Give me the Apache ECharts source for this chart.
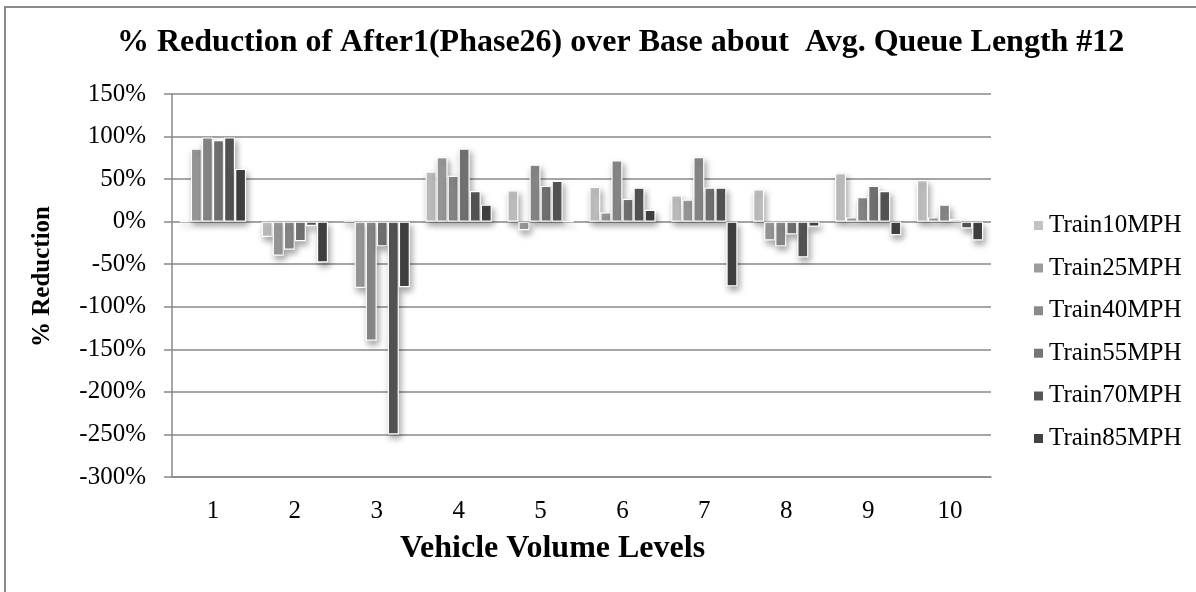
<!DOCTYPE html>
<html>
<head>
<meta charset="utf-8">
<script src="https://cdn.jsdelivr.net/npm/echarts@6/dist/echarts.min.js"></script>
<style>
  html, body { margin: 0; padding: 0; background: #fff; }
  #chart { width: 1196px; height: 592px; }
</style>
</head>
<body>
<div id="chart"></div>
<script>
// Vehicle volume levels on the category axis
const levels = ['1', '2', '3', '4', '5', '6', '7', '8', '9', '10'];

// Percentage reduction per train speed
const train10 = [0, -18, 3, 59, 37, 41, 31, 38, 57, 49];
const train25 = [86, -40, -78, 76, -10, 11, 26, -22, 5, 5];
const train40 = [99, -33, -140, 54, 67, 72, 76, -29, 29, 20];
const train55 = [96, -23, -29, 86, 42, 27, 40, -15, 42, 3];
const train70 = [99, -5, -250, 36, 48, 40, 40, -42, 36, -8];
const train85 = [62, -48, -77, 20, 0, 14, -76, -6, -16, -22];

const seriesNames = ['Train10MPH', 'Train25MPH', 'Train40MPH', 'Train55MPH', 'Train70MPH', 'Train85MPH'];
const seriesValues = [train10, train25, train40, train55, train70, train85];
const seriesColors = ['#c3c3c3', '#9c9c9c', '#8a8a8a', '#757575', '#565656', '#424242'];

const serif = 'Liberation Serif, Times New Roman, serif';

const chart = echarts.init(document.getElementById('chart'), null, { renderer: 'canvas' });

chart.setOption({
  backgroundColor: '#ffffff',
  animation: false,
  color: seriesColors,
  title: {
    text: '% Reduction of After1(Phase26) over Base about  Avg. Queue Length #12',
    left: 117,
    top: 27,
    padding: 0,
    textStyle: { fontFamily: serif, fontWeight: 'bold', fontSize: 32, color: '#000' }
  },
  graphic: [{
    type: 'rect',
    shape: { x: 5, y: 7, width: 1300, height: 700 },
    style: { fill: 'none', stroke: '#8a8a8a', lineWidth: 2 },
    silent: true,
    z: -1
  }],
  legend: {
    orient: 'vertical',
    left: 1032,
    top: 213,
    padding: 0,
    itemWidth: 11,
    itemHeight: 11,
    itemGap: 17.6,
    icon: 'rect',
    textStyle: { fontFamily: serif, fontSize: 25, color: '#000', lineHeight: 25 },
    data: seriesNames
  },
  grid: { left: 172, right: 205, top: 94, bottom: 115 },
  xAxis: {
    type: 'category',
    data: levels,
    name: 'Vehicle Volume Levels',
    nameLocation: 'middle',
    nameGap: 56,
    nameTextStyle: { fontFamily: serif, fontWeight: 'bold', fontSize: 32, color: '#000', padding: [0, 58, 0, 0] },
    axisLine: { onZero: false, lineStyle: { color: '#888', width: 1.5 } },
    axisTick: { show: false },
    axisLabel: { fontFamily: serif, fontSize: 25, color: '#000', margin: 22 }
  },
  yAxis: {
    type: 'value',
    min: -300,
    max: 150,
    interval: 50,
    name: '% Reduction',
    nameLocation: 'middle',
    nameGap: 117,
    nameTextStyle: { fontFamily: serif, fontWeight: 'bold', fontSize: 25, color: '#000', padding: [0, 0, 0, 18] },
    axisLine: { show: true, lineStyle: { color: '#888', width: 1.5 } },
    axisTick: { show: true, length: 8, lineStyle: { color: '#888', width: 1.5 } },
    axisLabel: { fontFamily: serif, fontSize: 25, color: '#000', margin: 26, formatter: v => v + '%' },
    splitLine: { show: true, lineStyle: { color: '#888', width: 1.5 } }
  },
  series: seriesNames.map((name, i) => ({
    name: name,
    type: 'bar',
    data: seriesValues[i],
    barGap: '0%',
    barCategoryGap: '19%',
    itemStyle: {
      color: seriesColors[i],
      borderColor: '#ffffff',
      borderWidth: 1.2,
      shadowColor: 'rgba(0,0,0,0.35)',
      shadowBlur: 6,
      shadowOffsetX: 2,
      shadowOffsetY: 4
    }
  }))
});
</script>
</body>
</html>
